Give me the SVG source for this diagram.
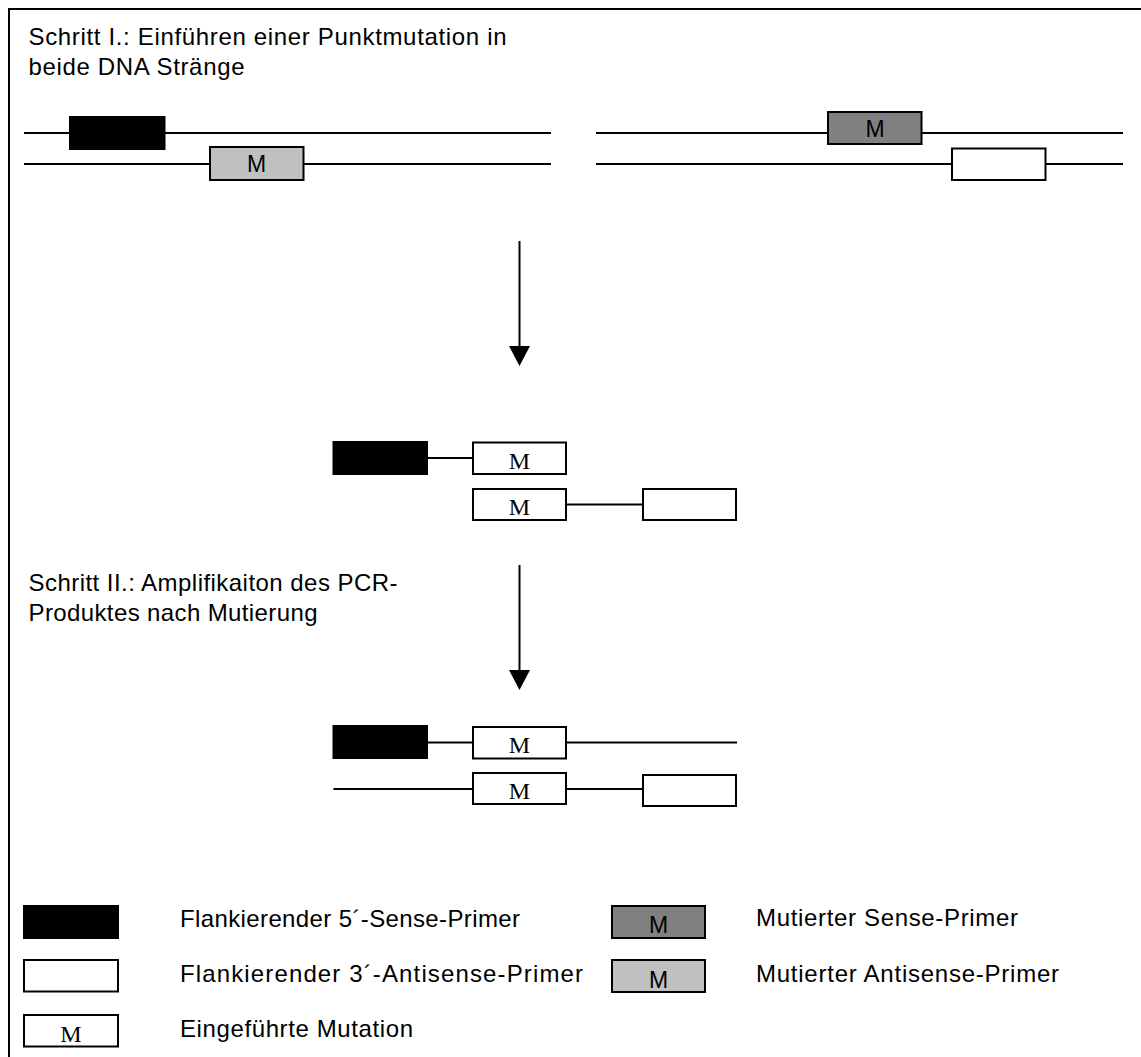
<svg xmlns="http://www.w3.org/2000/svg" width="1141" height="1057" viewBox="0 0 1141 1057">
<defs>
<style>
.ln{stroke:#000;stroke-width:2;fill:none}
.bx{stroke:#000;stroke-width:2}
.blk{fill:#000}
.wht{fill:#fff}
.dk{fill:#808080}
.lt{fill:#c0c0c0}
.t{font-family:"Liberation Sans",Arial,sans-serif;font-size:24px;fill:#000}
.lg{font-family:"Liberation Sans",Arial,sans-serif;font-size:24px;fill:#000}
.ms{font-family:"Liberation Sans",Arial,sans-serif;font-size:23px;fill:#000;text-anchor:middle}
.mr{font-family:"Liberation Serif","Times New Roman",serif;font-size:24px;fill:#000;text-anchor:middle}
</style>
<marker id="ah" markerWidth="20" markerHeight="21" refX="0" refY="10.5" orient="auto" markerUnits="userSpaceOnUse" viewBox="0 0 20 21">
<path d="M0,0 L20,10.5 L0,21 Z" fill="#000"/>
</marker>
</defs>
<rect x="0" y="0" width="1141" height="1057" fill="#fff"/>
<rect x="9" y="9" width="1200" height="1100" class="ln"/>

<g id="title1">
<text class="t" x="28.5" y="45" textLength="478" lengthAdjust="spacing">Schritt I.: Einführen einer Punktmutation in</text>
<text class="t" x="28.5" y="75" textLength="216" lengthAdjust="spacing">beide DNA Stränge</text>
</g>
<g id="title2">
<text class="t" x="28.5" y="591" textLength="369" lengthAdjust="spacing">Schritt II.: Amplifikaiton des PCR-</text>
<text class="t" x="28.5" y="621" textLength="289" lengthAdjust="spacing">Produktes nach Mutierung</text>
</g>

<g id="connectors">
<line class="ln" x1="519.5" y1="241" x2="519.5" y2="346" marker-end="url(#ah)"/>
<line class="ln" x1="519.5" y1="565" x2="519.5" y2="670" marker-end="url(#ah)"/>
</g>

<g id="step1-left">
<line class="ln" x1="24" y1="133" x2="551" y2="133"/>
<line class="ln" x1="24" y1="164" x2="551" y2="164"/>
<rect class="bx blk" x="70" y="117" width="94.5" height="32"/>
<rect class="bx lt" x="210" y="147" width="93.5" height="33"/>
<text class="ms" x="256.5" y="172">M</text>
</g>

<g id="step1-right">
<line class="ln" x1="596" y1="133" x2="1123" y2="133"/>
<line class="ln" x1="596" y1="164" x2="1123" y2="164"/>
<rect class="bx dk" x="828" y="112" width="93.5" height="32"/>
<text class="ms" x="875" y="137">M</text>
<rect class="bx wht" x="952" y="148.5" width="93.5" height="31.5"/>
</g>

<g id="intermediate">
<line class="ln" x1="427" y1="458" x2="473" y2="458"/>
<line class="ln" x1="566" y1="504.5" x2="643" y2="504.5"/>
<rect class="bx blk" x="333.5" y="442" width="93.5" height="32"/>
<rect class="bx wht" x="473" y="442.5" width="93" height="31.5"/>
<text class="mr" x="519.5" y="468.5">M</text>
<rect class="bx wht" x="473" y="489" width="93" height="31"/>
<text class="mr" x="519.5" y="515">M</text>
<rect class="bx wht" x="643" y="489" width="93" height="31"/>
</g>

<g id="product">
<line class="ln" x1="427" y1="742.5" x2="737" y2="742.5"/>
<line class="ln" x1="333.5" y1="789" x2="643" y2="789"/>
<rect class="bx blk" x="333.5" y="726" width="93.5" height="32"/>
<rect class="bx wht" x="473" y="727" width="93" height="31.5"/>
<text class="mr" x="519.5" y="752.5">M</text>
<rect class="bx wht" x="473" y="773" width="93" height="31"/>
<text class="mr" x="519.5" y="799">M</text>
<rect class="bx wht" x="643" y="775" width="93" height="31"/>
</g>

<g id="legend-sense">
<rect class="bx blk" x="24" y="906" width="94" height="32"/>
<text class="lg" x="180" y="926.5" textLength="340" lengthAdjust="spacing">Flankierender 5´-Sense-Primer</text>
</g>
<g id="legend-antisense">
<rect class="bx wht" x="24" y="960" width="94" height="31.5"/>
<text class="lg" x="180" y="981.5" textLength="403" lengthAdjust="spacing">Flankierender 3´-Antisense-Primer</text>
</g>
<g id="legend-mutation">
<rect class="bx wht" x="24" y="1015" width="94" height="31.5"/>
<text class="mr" x="71" y="1041.5">M</text>
<text class="lg" x="180" y="1036.5" textLength="233" lengthAdjust="spacing">Eingeführte Mutation</text>
</g>
<g id="legend-mut-sense">
<rect class="bx dk" x="612" y="906" width="93" height="32"/>
<text class="ms" x="658.5" y="932.5">M</text>
<text class="lg" x="756" y="926" textLength="262" lengthAdjust="spacing">Mutierter Sense-Primer</text>
</g>
<g id="legend-mut-antisense">
<rect class="bx lt" x="612" y="960" width="93" height="32"/>
<text class="ms" x="658.5" y="987.5">M</text>
<text class="lg" x="756" y="981.5" textLength="303" lengthAdjust="spacing">Mutierter Antisense-Primer</text>
</g>
</svg>
